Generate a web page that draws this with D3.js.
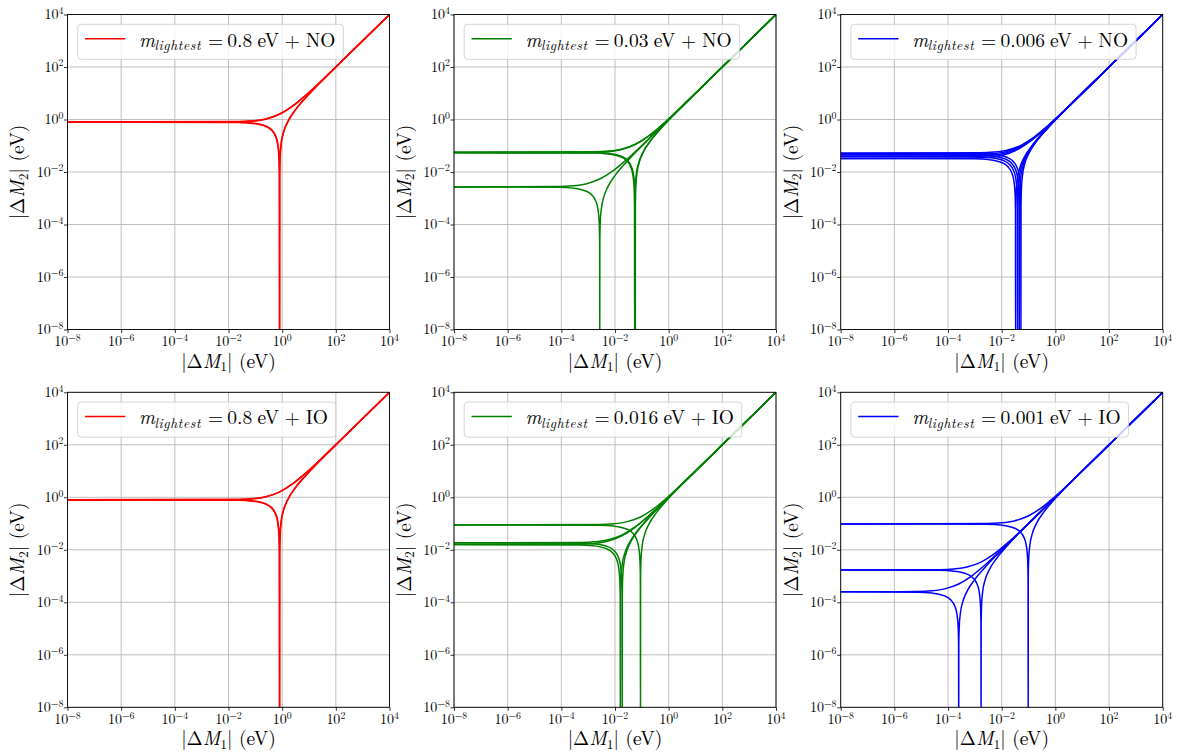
<!DOCTYPE html>
<html>
<head>
<meta charset="utf-8">
<script src="https://cdn.jsdelivr.net/npm/d3@7"></script>
<style>
  html, body { margin: 0; padding: 0; background: #fff; }
  svg { display: block; }
</style>
</head>
<body>
<svg id="chart" width="1178" height="752"></svg>
<script>
// ---------- data (|ΔM1|, |ΔM2|) in eV ----------
// plateau ~0.79 eV
const up079 = [[1e-8,0.79],[0.0237,0.8137],[0.079,0.869],[0.237,1.027],[0.79,1.58],[2.37,3.16],[7.9,8.69],[79,79.79],[790,790.79],[1e4,1e4]];
const lo079 = [[1e-8,0.79],[0.0237,0.7663],[0.079,0.711],[0.237,0.553],[0.395,0.395],[0.553,0.237],[0.6715,0.1185],[0.7505,0.0395],[0.7821,0.0079],[0.79,1e-9],[0.7979,0.0079],[0.8295,0.0395],[0.9085,0.1185],[1.106,0.316],[1.58,0.79],[3.16,2.37],[7.9,7.11],[79,78.21],[790,789.21],[1e4,1e4]];
// plateau ~0.81 eV
const up081 = [[1e-8,0.81],[0.0243,0.8343],[0.081,0.891],[0.243,1.053],[0.81,1.62],[2.43,3.24],[8.1,8.91],[81,81.81],[810,810.81],[1e4,1e4]];
const lo081 = [[1e-8,0.81],[0.0243,0.7857],[0.081,0.729],[0.243,0.567],[0.405,0.405],[0.567,0.243],[0.6885,0.1215],[0.7695,0.0405],[0.8019,0.0081],[0.81,1e-9],[0.8181,0.0081],[0.8505,0.0405],[0.9315,0.1215],[1.134,0.324],[1.62,0.81],[3.24,2.43],[8.1,7.29],[81,80.19],[810,809.19],[1e4,1e4]];
// plateau ~0.054 eV
const up054 = [[1e-8,0.054],[0.00162,0.05562],[0.0054,0.0594],[0.0162,0.0702],[0.054,0.108],[0.162,0.216],[0.54,0.594],[5.4,5.454],[54,54.054],[1e4,1e4]];
const lo054 = [[1e-8,0.054],[0.00162,0.05238],[0.0054,0.0486],[0.0162,0.0378],[0.027,0.027],[0.0378,0.0162],[0.0459,0.0081],[0.0513,0.0027],[0.05346,0.00054],[0.054,1e-9],[0.05454,0.00054],[0.0567,0.0027],[0.0621,0.0081],[0.0756,0.0216],[0.108,0.054],[0.216,0.162],[0.54,0.486],[5.4,5.346],[54,53.946],[1e4,1e4]];
// plateau ~0.057 eV
const up057 = [[1e-8,0.057],[0.00171,0.05871],[0.0057,0.0627],[0.0171,0.0741],[0.057,0.114],[0.171,0.228],[0.57,0.627],[5.7,5.757],[57,57.057],[1e4,1e4]];
const lo057 = [[1e-8,0.057],[0.00171,0.05529],[0.0057,0.0513],[0.0171,0.0399],[0.0285,0.0285],[0.0399,0.0171],[0.04845,0.00855],[0.05415,0.00285],[0.05643,0.00057],[0.057,1e-9],[0.05757,0.00057],[0.05985,0.00285],[0.06555,0.00855],[0.0798,0.0228],[0.114,0.057],[0.228,0.171],[0.57,0.513],[5.7,5.643],[57,56.943],[1e4,1e4]];
// plateau ~0.0027 eV
const up0027 = [[1e-8,0.0027],[8.1e-5,0.002781],[0.00027,0.00297],[0.00081,0.00351],[0.0027,0.0054],[0.0081,0.0108],[0.027,0.0297],[0.27,0.2727],[2.7,2.7027],[1e4,1e4]];
const lo0027 = [[1e-8,0.0027],[8.1e-5,0.002619],[0.00027,0.00243],[0.00081,0.00189],[0.00135,0.00135],[0.00189,0.00081],[0.002295,0.000405],[0.002565,0.000135],[0.002673,2.7e-5],[0.0027,1e-9],[0.002727,2.7e-5],[0.002835,0.000135],[0.003105,0.000405],[0.00378,0.00108],[0.0054,0.0027],[0.0108,0.0081],[0.027,0.0243],[0.27,0.2673],[2.7,2.6973],[1e4,1e4]];
// plateau ~0.052 eV
const up052 = [[1e-8,0.052],[0.00156,0.05356],[0.0052,0.0572],[0.0156,0.0676],[0.052,0.104],[0.156,0.208],[0.52,0.572],[5.2,5.252],[52,52.052],[1e4,1e4]];
const lo052 = [[1e-8,0.052],[0.00156,0.05044],[0.0052,0.0468],[0.0156,0.0364],[0.026,0.026],[0.0364,0.0156],[0.0442,0.0078],[0.0494,0.0026],[0.05148,0.00052],[0.052,1e-9],[0.05252,0.00052],[0.0546,0.0026],[0.0598,0.0078],[0.0728,0.0208],[0.104,0.052],[0.208,0.156],[0.52,0.468],[5.2,5.148],[52,51.948],[1e4,1e4]];
// plateau ~0.045 eV
const up045 = [[1e-8,0.045],[0.00135,0.04635],[0.0045,0.0495],[0.0135,0.0585],[0.045,0.09],[0.135,0.18],[0.45,0.495],[4.5,4.545],[45,45.045],[1e4,1e4]];
const lo045 = [[1e-8,0.045],[0.00135,0.04365],[0.0045,0.0405],[0.0135,0.0315],[0.0225,0.0225],[0.0315,0.0135],[0.03825,0.00675],[0.04275,0.00225],[0.04455,0.00045],[0.045,1e-9],[0.04545,0.00045],[0.04725,0.00225],[0.05175,0.00675],[0.063,0.018],[0.09,0.045],[0.18,0.135],[0.45,0.405],[4.5,4.455],[45,44.955],[1e4,1e4]];
// plateau ~0.039 eV
const up039 = [[1e-8,0.039],[0.00117,0.04017],[0.0039,0.0429],[0.0117,0.0507],[0.039,0.078],[0.117,0.156],[0.39,0.429],[3.9,3.939],[39,39.039],[1e4,1e4]];
const lo039 = [[1e-8,0.039],[0.00117,0.03783],[0.0039,0.0351],[0.0117,0.0273],[0.0195,0.0195],[0.0273,0.0117],[0.03315,0.00585],[0.03705,0.00195],[0.03861,0.00039],[0.039,1e-9],[0.03939,0.00039],[0.04095,0.00195],[0.04485,0.00585],[0.0546,0.0156],[0.078,0.039],[0.156,0.117],[0.39,0.351],[3.9,3.861],[39,38.961],[1e4,1e4]];
// plateau ~0.033 eV
const up033 = [[1e-8,0.033],[0.00099,0.03399],[0.0033,0.0363],[0.0099,0.0429],[0.033,0.066],[0.099,0.132],[0.33,0.363],[3.3,3.333],[33,33.033],[1e4,1e4]];
const lo033 = [[1e-8,0.033],[0.00099,0.03201],[0.0033,0.0297],[0.0099,0.0231],[0.0165,0.0165],[0.0231,0.0099],[0.02805,0.00495],[0.03135,0.00165],[0.03267,0.00033],[0.033,1e-9],[0.03333,0.00033],[0.03465,0.00165],[0.03795,0.00495],[0.0462,0.0132],[0.066,0.033],[0.132,0.099],[0.33,0.297],[3.3,3.267],[33,32.967],[1e4,1e4]];
// plateau ~0.089 eV
const up089 = [[1e-8,0.089],[0.00267,0.09167],[0.0089,0.0979],[0.0267,0.1157],[0.089,0.178],[0.267,0.356],[0.89,0.979],[8.9,8.989],[89,89.089],[1e4,1e4]];
const lo089 = [[1e-8,0.089],[0.00267,0.08633],[0.0089,0.0801],[0.0267,0.0623],[0.0445,0.0445],[0.0623,0.0267],[0.07565,0.01335],[0.08455,0.00445],[0.08811,0.00089],[0.089,1e-9],[0.08989,0.00089],[0.09345,0.00445],[0.10235,0.01335],[0.1246,0.0356],[0.178,0.089],[0.356,0.267],[0.89,0.801],[8.9,8.811],[89,88.911],[1e4,1e4]];
// plateau ~0.0185 eV
const up0185 = [[1e-8,0.0185],[0.000555,0.019055],[0.00185,0.02035],[0.00555,0.02405],[0.0185,0.037],[0.0555,0.074],[0.185,0.2035],[1.85,1.8685],[18.5,18.5185],[1e4,1e4]];
const lo0185 = [[1e-8,0.0185],[0.000555,0.017945],[0.00185,0.01665],[0.00555,0.01295],[0.00925,0.00925],[0.01295,0.00555],[0.015725,0.002775],[0.017575,0.000925],[0.018315,0.000185],[0.0185,1e-9],[0.018685,0.000185],[0.019425,0.000925],[0.021275,0.002775],[0.0259,0.0074],[0.037,0.0185],[0.074,0.0555],[0.185,0.1665],[1.85,1.8315],[18.5,18.4815],[1e4,1e4]];
// plateau ~0.0158 eV
const up0158 = [[1e-8,0.0158],[0.000474,0.016274],[0.00158,0.01738],[0.00474,0.02054],[0.0158,0.0316],[0.0474,0.0632],[0.158,0.1738],[1.58,1.5958],[15.8,15.8158],[1e4,1e4]];
const lo0158 = [[1e-8,0.0158],[0.000474,0.015326],[0.00158,0.01422],[0.00474,0.01106],[0.0079,0.0079],[0.01106,0.00474],[0.01343,0.00237],[0.01501,0.00079],[0.015642,0.000158],[0.0158,1e-9],[0.015958,0.000158],[0.01659,0.00079],[0.01817,0.00237],[0.02212,0.00632],[0.0316,0.0158],[0.0632,0.0474],[0.158,0.1422],[1.58,1.5642],[15.8,15.7842],[1e4,1e4]];
// plateau ~0.097 eV
const up097 = [[1e-8,0.097],[0.00291,0.09991],[0.0097,0.1067],[0.0291,0.1261],[0.097,0.194],[0.291,0.388],[0.97,1.067],[9.7,9.797],[97,97.097],[1e4,1e4]];
const lo097 = [[1e-8,0.097],[0.00291,0.09409],[0.0097,0.0873],[0.0291,0.0679],[0.0485,0.0485],[0.0679,0.0291],[0.08245,0.01455],[0.09215,0.00485],[0.09603,0.00097],[0.097,1e-9],[0.09797,0.00097],[0.10185,0.00485],[0.11155,0.01455],[0.1358,0.0388],[0.194,0.097],[0.388,0.291],[0.97,0.873],[9.7,9.603],[97,96.903],[1e4,1e4]];
// plateau ~0.0017 eV
const up0017 = [[1e-8,0.0017],[5.1e-5,0.001751],[0.00017,0.00187],[0.00051,0.00221],[0.0017,0.0034],[0.0051,0.0068],[0.017,0.0187],[0.17,0.1717],[1.7,1.7017],[1e4,1e4]];
const lo0017 = [[1e-8,0.0017],[5.1e-5,0.001649],[0.00017,0.00153],[0.00051,0.00119],[0.00085,0.00085],[0.00119,0.00051],[0.001445,0.000255],[0.001615,8.5e-5],[0.001683,1.7e-5],[0.0017,1e-9],[0.001717,1.7e-5],[0.001785,8.5e-5],[0.001955,0.000255],[0.00238,0.00068],[0.0034,0.0017],[0.0068,0.0051],[0.017,0.0153],[0.17,0.1683],[1.7,1.6983],[1e4,1e4]];
// plateau ~0.00025 eV
const up00025 = [[1e-8,0.00025],[7.5e-6,0.0002575],[2.5e-5,0.000275],[7.5e-5,0.000325],[0.00025,0.0005],[0.00075,0.001],[0.0025,0.00275],[0.025,0.02525],[0.25,0.25025],[1e4,1e4]];
const lo00025 = [[1e-8,0.00025],[7.5e-6,0.0002425],[2.5e-5,0.000225],[7.5e-5,0.000175],[0.000125,0.000125],[0.000175,7.5e-5],[0.0002125,3.75e-5],[0.0002375,1.25e-5],[0.0002475,2.5e-6],[0.00025,1e-9],[0.0002525,2.5e-6],[0.0002625,1.25e-5],[0.0002875,3.75e-5],[0.00035,0.0001],[0.0005,0.00025],[0.001,0.00075],[0.0025,0.00225],[0.025,0.02475],[0.25,0.24975],[1e4,1e4]];

// panels
const panelMasses = ["0.8", "0.03", "0.006", "0.8", "0.016", "0.001"];
const panelOrderings = ["NO", "NO", "NO", "IO", "IO", "IO"];
const panelColors = ["red", "green", "blue", "red", "green", "blue"];
const panelCurves = [
  [up079, lo079, up081, lo081],
  [up054, lo054, up057, lo057, up0027, lo0027],
  [up052, lo052, up045, lo045, up039, lo039, up033, lo033],
  [up079, lo079, up081, lo081],
  [up089, lo089, up0185, lo0185, up0158, lo0158],
  [up097, lo097, up0017, lo0017, up00025, lo00025]
];

// axes
const axisDomain = [1e-8, 1e4];
const majorTicks = [1e-8, 1e-6, 1e-4, 1e-2, 1, 1e2, 1e4];
const tickExponents = ["\u22128", "\u22126", "\u22124", "\u22122", "0", "2", "4"];

// ---------- layout ----------
const FONT = '"Latin Modern Roman", "Liberation Serif", "DejaVu Serif", serif';
const colLeft = [67.5, 454, 840.7];
const rowTop = [14.5, 392.3];
const W = 322, H = 315;

const svg = d3.select("#chart");
svg.append("rect").attr("width", 1178).attr("height", 752).attr("fill", "#fff");

function txt(sel) {
  return sel.append("text").attr("font-family", FONT).style("font-family", FONT).attr("fill", "#000");
}

const x = d3.scaleLog().domain(axisDomain).range([0, W]);
const y = d3.scaleLog().domain(axisDomain).range([H, 0]);
const line = d3.line().x(d => x(d[0])).y(d => y(d[1])).curve(d3.curveMonotoneX);

panelCurves.forEach((curves, i) => {
  const col = i % 3, row = Math.floor(i / 3);
  const g = svg.append("g").attr("transform", `translate(${colLeft[col]},${rowTop[row]})`);
  const color = panelColors[i];

  const clipId = "clip" + i;
  g.append("clipPath").attr("id", clipId).append("rect").attr("width", W).attr("height", H);

  // grid
  const grid = g.append("g");
  grid.selectAll("line.gx").data(majorTicks).join("line").attr("class", "gx")
    .attr("x1", d => x(d)).attr("x2", d => x(d)).attr("y1", 0).attr("y2", H)
    .attr("stroke", "#b0b0b0").attr("stroke-width", 0.8);
  grid.selectAll("line.gy").data(majorTicks).join("line").attr("class", "gy")
    .attr("y1", d => y(d)).attr("y2", d => y(d)).attr("x1", 0).attr("x2", W)
    .attr("stroke", "#b0b0b0").attr("stroke-width", 0.8);

  // curves
  const cg = g.append("g").attr("clip-path", `url(#${clipId})`);
  cg.selectAll("path").data(curves).join("path")
    .attr("d", line).attr("fill", "none").attr("stroke", color)
    .attr("stroke-width", 1.5).attr("stroke-linejoin", "round");

  // axes (tick marks)
  const xAxis = g.append("g").attr("transform", `translate(0,${H})`)
    .call(d3.axisBottom(x).tickValues(majorTicks).tickSize(3.5).tickFormat(""));
  const yAxis = g.append("g")
    .call(d3.axisLeft(y).tickValues(majorTicks).tickSize(3.5).tickFormat(""));
  [xAxis, yAxis].forEach(a => {
    a.select(".domain").remove();
    a.selectAll(".tick line").attr("stroke", "#000").attr("stroke-width", 0.8);
  });

  // tick labels
  majorTicks.forEach((t, k) => {
    const tx = txt(g).attr("x", x(t)).attr("y", H + 16.7)
      .attr("text-anchor", "middle").attr("font-size", 14);
    tx.append("tspan").text("10");
    tx.append("tspan").attr("dy", -5.4).attr("font-size", 9.8).text(tickExponents[k]);

    const ty = txt(g).attr("x", -4.2).attr("y", y(t) + 4.8)
      .attr("text-anchor", "end").attr("font-size", 14);
    ty.append("tspan").text("10");
    ty.append("tspan").attr("dy", -5.4).attr("font-size", 9.8).text(tickExponents[k]);
  });

  // spines
  g.append("rect").attr("width", W).attr("height", H)
    .attr("fill", "none").attr("stroke", "#000").attr("stroke-width", 0.9);

  // axis labels
  const xl = txt(g).attr("x", W / 2).attr("y", H + 38.2)
    .attr("text-anchor", "middle").attr("font-size", 19.5);
  xl.append("tspan").text("|\u0394");
  xl.append("tspan").attr("font-style", "italic").text("M");
  xl.append("tspan").attr("font-size", 13.6).attr("dy", 3.5).text("1");
  xl.append("tspan").attr("dy", -3.5).text("| (eV)");

  const yl = txt(g)
    .attr("transform", `translate(-43.2,${H / 2}) rotate(-90)`)
    .attr("text-anchor", "middle").attr("font-size", 19.5);
  yl.append("tspan").text("|\u0394");
  yl.append("tspan").attr("font-style", "italic").text("M");
  yl.append("tspan").attr("font-size", 13.6).attr("dy", 3.5).text("2");
  yl.append("tspan").attr("dy", -3.5).text("| (eV)");

  // legend
  const lg = g.append("g").attr("transform", "translate(10.2,9.8)");
  const box = lg.append("rect").attr("x", 0).attr("y", 0).attr("height", 35)
    .attr("rx", 3.5).attr("ry", 3.5)
    .attr("fill", "#fff").attr("fill-opacity", 0.8)
    .attr("stroke", "#cccccc").attr("stroke-opacity", 0.8).attr("stroke-width", 1);
  lg.append("line").attr("x1", 7.3).attr("x2", 47.6).attr("y1", 14.4).attr("y2", 14.4)
    .attr("stroke", color).attr("stroke-width", 1.5);

  const base = 22.4, FS = 19.5;
  const tm = txt(lg).attr("x", 61.3).attr("y", base).attr("font-size", FS)
    .attr("font-style", "italic").text("m");
  txt(lg).attr("x", 61.3 + tm.node().getComputedTextLength() - 0.5)
    .attr("y", base + 3.8).attr("font-size", 13.65).attr("font-style", "italic")
    .attr("letter-spacing", 0.6).text("lightest");
  txt(lg).attr("x", 130.2).attr("y", base).attr("font-size", FS).text("=");
  let cx = 149.6;
  const parts = [panelMasses[i], "eV", "+", panelOrderings[i]];
  const gaps = [5.2, 5.6, 5.8, 0];
  parts.forEach((p, k) => {
    const t = txt(lg).attr("x", cx).attr("y", base).attr("font-size", FS).text(p);
    cx += t.node().getComputedTextLength() + gaps[k];
  });
  box.attr("width", cx + 7.9);
});
</script>
</body>
</html>
